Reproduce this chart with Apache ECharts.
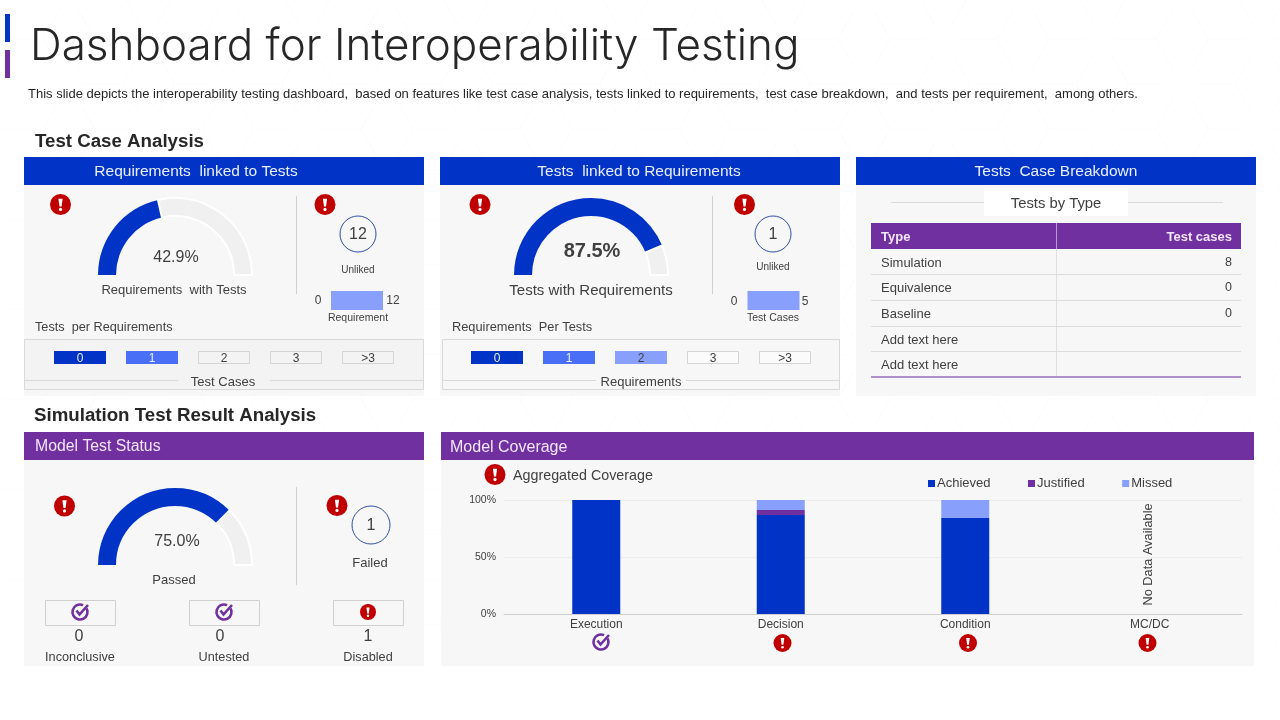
<!DOCTYPE html>
<html>
<head>
    <meta charset="utf-8">
    <title>Dashboard for Interoperability Testing</title>
    <script src="https://cdn.jsdelivr.net/npm/echarts@6/dist/echarts.min.js"></script>
    <style>
        html, body { margin: 0; padding: 0; background: #fff; }
        #main { width: 1280px; height: 720px; }
    </style>
</head>
<body>
<div id="main"></div>
<script type="text/javascript">
    // ------ data ------
    var requirementsGauge = [42.9, 57.1];
    var testsGauge = [87.5, 12.5];
    var statusGauge = [75.0, 25.0];

    var unlinkedRequirements = 12;
    var unlinkedTests = 1;
    var failedTests = 1;
    var requirementRange = [0, 12];
    var testCaseRange = [0, 5];

    var tileCategories = ['0', '1', '2', '3', '>3'];
    var testsPerRequirementLevel = [2, 1, 0, 0, 0];
    var requirementsPerTestLevel = [2, 1, 3, 0, 0];

    var tableHead = ['Type', 'Test cases'];
    var tableTypes = ['Simulation', 'Equivalence', 'Baseline', 'Add text here', 'Add text here'];
    var tableCounts = ['8', '0', '0', '', ''];

    var statusNames = ['Inconclusive', 'Untested', 'Disabled'];
    var statusCounts = [0, 0, 1];

    var coverageCategories = ['Execution', 'Decision', 'Condition', 'MC/DC'];
    var coverageAchieved = [100, 86.8, 84.2, null];
    var coverageJustified = [0, 4.4, 0, null];
    var coverageMissed = [0, 8.8, 15.8, null];

    // ------ colours ------
    var BLUE = '#0033C6', PURPLE = '#7030A0', MID = '#4A6FF7', LIGHT = '#88A0FB';
    var RED = '#C00000', PANEL = '#F7F7F7', TEXT = '#404040', FONT = 'Liberation Sans';

    // ------ small helpers for the slide furniture ------
    var g = [];
    function rect(x, y, w, h, fill, stroke, z) {
        g.push({type: 'rect', z: z === undefined ? -1 : z, silent: true, shape: {x: x, y: y, width: w, height: h},
            style: {fill: fill || 'none', stroke: stroke || 'none', lineWidth: 1}});
    }
    function line(x1, y1, x2, y2, color, w, z) {
        g.push({type: 'line', z: z === undefined ? -1 : z, silent: true, shape: {x1: x1, y1: y1, x2: x2, y2: y2},
            style: {stroke: color, lineWidth: w || 1}});
    }
    function txt(x, y, s, size, color, align, weight, font) {
        g.push({type: 'text', z: 5, silent: true, x: x, y: y + 1, style: {
            text: s, fontSize: size, fill: color || TEXT, align: align || 'center', verticalAlign: 'middle',
            fontWeight: weight || 'normal', fontFamily: font || FONT}});
    }
    function ring(x, y, r, s, size) {
        g.push({type: 'circle', z: 1, silent: true, shape: {cx: x, cy: y, r: r},
            style: {fill: 'none', stroke: '#2F4FA8', lineWidth: 1}});
        txt(x, y, s, size, TEXT);
    }
    function alert(x, y, r) {
        g.push({type: 'circle', z: 3, silent: true, shape: {cx: x, cy: y, r: r}, style: {fill: RED}});
        g.push({type: 'polygon', z: 4, silent: true, shape: {points: [
            [x - r * 0.2, y - r * 0.55], [x + r * 0.2, y - r * 0.55], [x + r * 0.1, y + r * 0.2], [x - r * 0.1, y + r * 0.2]
        ]}, style: {fill: '#fff'}});
        g.push({type: 'circle', z: 4, silent: true, shape: {cx: x, cy: y + r * 0.47, r: r * 0.15}, style: {fill: '#fff'}});
    }
    function check(x, y) {
        g.push({type: 'arc', z: 3, silent: true, shape: {cx: x, cy: y, r: 7.5, startAngle: -0.5, endAngle: -1.15, clockwise: true},
            style: {fill: 'none', stroke: PURPLE, lineWidth: 2.6}});
        g.push({type: 'polyline', z: 4, silent: true, shape: {points: [[x - 3.5, y - 1.5], [x - 0.5, y + 2.5], [x + 8, y - 7]]},
            style: {fill: 'none', stroke: PURPLE, lineWidth: 2.6}});
    }

    // faint wallpaper of open hexagons
    function hexMark(cx, cy) {
        var stroke = {fill: 'none', stroke: '#FCFCFC', lineWidth: 1};
        g.push({type: 'polyline', z: -2, silent: true, shape: {points: [[cx - 9, cy - 30], [cx - 26, cy], [cx - 9, cy + 30]]}, style: stroke});
        g.push({type: 'polyline', z: -2, silent: true, shape: {points: [[cx + 9, cy - 30], [cx + 26, cy], [cx + 9, cy + 30]]}, style: stroke});
        g.push({type: 'line', z: -2, silent: true, shape: {x1: cx + 26, y1: cy, x2: cx + 62, y2: cy}, style: stroke});
        g.push({type: 'line', z: -2, silent: true, shape: {x1: cx - 66, y1: cy, x2: cx - 26, y2: cy}, style: stroke});
    }
    for (var hx = 0; hx < 9; hx++) {
        for (var hy = 0; hy < 8; hy++) {
            hexMark(864 - 159 * 5 + 159 * hx, 39 - 90 + 90 * hy);
            hexMark(864 - 159 * 5 + 79.5 + 159 * hx, 84 - 90 + 90 * hy);
        }
    }

    // title block
    rect(5, 14, 5, 28, BLUE);
    rect(5, 50, 5, 28, PURPLE);
    txt(30, 46, 'Dashboard for Interoperability Testing', 44, '#262626', 'left', 300, 'Inter');
    txt(28, 93, 'This slide depicts the interoperability testing dashboard,  based on features like test case analysis, tests linked to requirements,  test case breakdown,  and tests per requirement,  among others.', 13, '#262626', 'left');
    txt(35, 141, 'Test Case Analysis', 18.7, '#262626', 'left', 'bold');
    txt(34, 415, 'Simulation Test Result Analysis', 18.7, '#262626', 'left', 'bold');

    // panels
    rect(24, 185, 400, 211, PANEL);
    rect(440, 185, 400, 211, PANEL);
    rect(856, 185, 400, 211, PANEL);
    rect(24, 460, 400, 206, PANEL);
    rect(441, 460, 813, 206, PANEL);
    rect(24, 157, 400, 28, BLUE);
    rect(440, 157, 400, 28, BLUE);
    rect(856, 157, 400, 28, BLUE);
    rect(24, 432, 400, 28, PURPLE);
    rect(441, 432, 813, 28, PURPLE);
    txt(196, 171, 'Requirements  linked to Tests', 15.5, '#EAF0FF');
    txt(639, 171, 'Tests  linked to Requirements', 15.5, '#EAF0FF');
    txt(1056, 171, 'Tests  Case Breakdown', 15.5, '#EAF0FF');
    txt(35, 446, 'Model Test Status', 15.8, '#F3E6FF', 'left');
    txt(450, 447, 'Model Coverage', 16, '#F3E6FF', 'left');

    // requirements linked to tests
    alert(60.5, 204.5, 10.5);
    alert(325, 204.5, 10.5);
    line(296.5, 196, 296.5, 294, '#D0D0D0');
    txt(176, 257, requirementsGauge[0].toFixed(1) + '%', 16, TEXT);
    txt(174, 289, 'Requirements  with Tests', 13, TEXT);
    ring(358, 234, 18, String(unlinkedRequirements), 16);
    txt(358, 269, 'Unliked', 10, TEXT);
    txt(318, 300, String(requirementRange[0]), 12, TEXT);
    txt(393, 300, String(requirementRange[1]), 12, TEXT);
    txt(358, 317, 'Requirement', 10.5, TEXT);
    txt(35, 326, 'Tests  per Requirements', 12.7, TEXT, 'left');
    rect(24.5, 339.5, 399, 50, '#F3F3F3', '#D9D9D9');
    line(25, 380.5, 423, 380.5, '#D9D9D9');
    rect(178, 374, 92, 13, '#F3F3F3', null, -0.5);
    txt(223, 381, 'Test Cases', 13, TEXT);

    // tests linked to requirements
    alert(480, 204.5, 10.5);
    alert(744.5, 204.5, 10.5);
    line(712.5, 196, 712.5, 294, '#D0D0D0');
    txt(592, 250, testsGauge[0].toFixed(1) + '%', 20, TEXT, 'center', 'bold');
    txt(591, 290, 'Tests with Requirements', 15, TEXT);
    ring(773, 234, 18, String(unlinkedTests), 16);
    txt(773, 266, 'Unliked', 10, TEXT);
    txt(734, 301, String(testCaseRange[0]), 12, TEXT);
    txt(805, 301, String(testCaseRange[1]), 12, TEXT);
    txt(773, 317, 'Test Cases', 10.5, TEXT);
    txt(452, 326, 'Requirements  Per Tests', 12.8, TEXT, 'left');
    rect(442.5, 339.5, 397, 50, '#F7F7F7', '#D9D9D9');
    line(443, 380.5, 839, 380.5, '#D9D9D9');
    rect(596, 374, 90, 13, '#F7F7F7', null, -0.5);
    txt(641, 381, 'Requirements', 13, TEXT);

    // tests by type table
    rect(984, 189, 144, 27, '#FFFFFF');
    line(891, 202.5, 984, 202.5, '#D9D9D9');
    line(1128, 202.5, 1223, 202.5, '#D9D9D9');
    txt(1056, 203, 'Tests by Type', 14.8, TEXT);
    rect(871, 223, 370, 26, PURPLE);
    line(1056.5, 223, 1056.5, 249, '#B79AD0', 1);
    line(1056.5, 249, 1056.5, 377, '#E2DEE6', 1);
    txt(881, 236, tableHead[0], 13, '#F5E6FF', 'left', 'bold');
    txt(1232, 236, tableHead[1], 13, '#F5E6FF', 'right', 'bold');
    var rowY = [262, 287, 313, 339, 364], ruleY = [274.5, 300.5, 326.5, 351.5];
    for (var i = 0; i < tableTypes.length; i++) {
        txt(881, rowY[i], tableTypes[i], 13, TEXT, 'left');
        if (tableCounts[i]) txt(1232, rowY[i], tableCounts[i], 12.5, TEXT, 'right');
        if (i < ruleY.length) line(871, ruleY[i], 1241, ruleY[i], '#DCDCDC');
    }
    line(871, 377, 1241, 377, '#B08FCB', 2);

    // model test status
    alert(64.5, 506, 10.5);
    alert(337, 505.5, 10.5);
    line(296.5, 487, 296.5, 585, '#D0D0D0');
    txt(177, 541, statusGauge[0].toFixed(1) + '%', 16, TEXT);
    txt(174, 579, 'Passed', 13, TEXT);
    ring(371, 525, 19, String(failedTests), 16);
    txt(370, 562, 'Failed', 13, TEXT);
    var statusBoxX = [45, 189, 333], statusTextX = [80, 224, 368], statusNumX = [79, 220, 368];
    for (var j = 0; j < statusNames.length; j++) {
        rect(statusBoxX[j] + 0.5, 600.5, 70, 25, '#F7F7F7', '#D0D0D0');
        txt(statusNumX[j], 636, String(statusCounts[j]), 16, TEXT);
        txt(statusTextX[j], 656, statusNames[j], 12.7, TEXT);
    }
    check(80, 612);
    check(224, 612);
    alert(368, 612, 8);

    // model coverage
    alert(495, 474.5, 10.5);
    txt(513, 475, 'Aggregated Coverage', 14.3, TEXT, 'left');
    txt(1148, 553.5, 'No Data Available', 12.8, TEXT);
    g[g.length - 1].rotation = Math.PI / 2;
    check(601, 642);
    alert(782.5, 643, 9);
    alert(968, 643, 9);
    alert(1147.5, 643, 9);

    // ------ series helpers ------
    function halfRing(cx, cy, values, color) {
        return {
            type: 'pie', silent: true, center: [cx, cy], radius: [59, 77], startAngle: 180, endAngle: 360,
            label: {show: false}, labelLine: {show: false},
            data: [
                {value: values[0], name: 'value', itemStyle: {color: color}},
                {value: values[1], name: 'rest', itemStyle: {color: '#F0F0F0', borderColor: '#fff', borderWidth: 2}}
            ]
        };
    }
    var grids = [], xAxes = [], yAxes = [], series = [];
    function tileRow(left, levels, blank) {
        var idx = grids.length;
        grids.push({left: left, top: 351, width: 360, height: 13});
        xAxes.push({gridIndex: idx, type: 'category', data: tileCategories, show: false});
        yAxes.push({gridIndex: idx, type: 'value', min: 0, max: 1, show: false});
        var fills = [blank, MID, BLUE, LIGHT];
        series.push({
            type: 'bar', silent: true, xAxisIndex: idx, yAxisIndex: idx, barWidth: 52,
            label: {show: true, position: 'inside', formatter: '{b}', fontSize: 12, fontFamily: FONT, offset: [0, 1]},
            data: levels.map(function (lv) {
                return {
                    value: 1,
                    itemStyle: {color: fills[lv], borderColor: lv ? fills[lv] : '#D4D4D4', borderWidth: lv ? 0 : 1},
                    label: {color: (lv === 1 || lv === 2) ? '#E8EEFF' : TEXT}
                };
            })
        });
    }
    function rangeBar(left, range) {
        var idx = grids.length;
        grids.push({left: left, top: 291, width: 52, height: 19});
        xAxes.push({gridIndex: idx, type: 'value', min: range[0], max: range[1], show: false});
        yAxes.push({gridIndex: idx, type: 'category', data: ['range'], show: false});
        series.push({type: 'bar', silent: true, xAxisIndex: idx, yAxisIndex: idx, barWidth: '100%',
            itemStyle: {color: LIGHT}, data: [range[1]]});
    }

    tileRow(44, testsPerRequirementLevel, '#F3F3F3');
    tileRow(461, requirementsPerTestLevel, '#FBFBFB');
    rangeBar(331, requirementRange);
    rangeBar(747.5, testCaseRange);

    // stacked coverage chart
    var cov = grids.length;
    grids.push({left: 504, top: 500, width: 738, height: 114});
    xAxes.push({
        gridIndex: cov, type: 'category', data: coverageCategories,
        axisLine: {lineStyle: {color: '#CFCFCF'}}, axisTick: {show: false},
        axisLabel: {color: TEXT, fontSize: 12, fontFamily: FONT, margin: 5}
    });
    yAxes.push({
        gridIndex: cov, type: 'value', min: 0, max: 100, interval: 50,
        axisLine: {show: false}, axisTick: {show: false},
        axisLabel: {color: TEXT, fontSize: 10.5, fontFamily: FONT, margin: 8, formatter: '{value}%'},
        splitLine: {lineStyle: {color: '#ECECEC'}}
    });
    function stack(name, values, color) {
        return {name: name, type: 'bar', stack: 'coverage', silent: true, xAxisIndex: cov, yAxisIndex: cov,
            barWidth: 48, itemStyle: {color: color}, data: values};
    }
    series.push(stack('Achieved', coverageAchieved, BLUE));
    series.push(stack('Justified', coverageJustified, PURPLE));
    series.push(stack('Missed', coverageMissed, LIGHT));

    series.push(halfRing(175, 275, requirementsGauge, BLUE));
    series.push(halfRing(591, 275, testsGauge, BLUE));
    series.push(halfRing(175, 565, statusGauge, BLUE));

    var chart = echarts.init(document.getElementById('main'));
    chart.setOption({
        animation: false,
        backgroundColor: '#fff',
        textStyle: {fontFamily: FONT},
        legend: {
            left: 928, top: 477, padding: 0, itemWidth: 7, itemHeight: 7, itemGap: 37.5, icon: 'rect', selectedMode: false,
            textStyle: {color: TEXT, fontSize: 13, fontFamily: FONT, padding: [0, 0, 0, -3]},
            data: ['Achieved', 'Justified', 'Missed']
        },
        grid: grids,
        xAxis: xAxes,
        yAxis: yAxes,
        graphic: {elements: g},
        series: series
    });
</script>
</body>
</html>
